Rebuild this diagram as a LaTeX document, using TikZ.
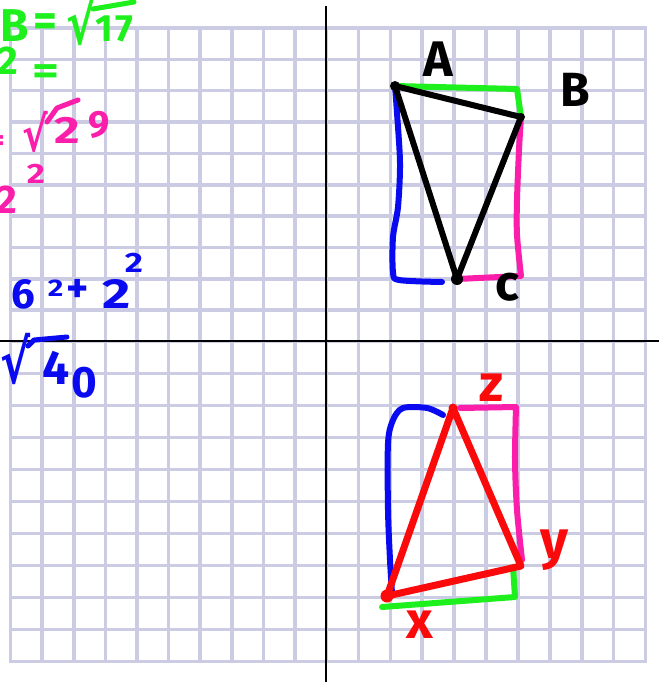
\documentclass[tikz,border=0pt]{standalone}
\usepackage{fontspec}
\usepackage{graphicx}
\setmainfont{Fira Sans}
\newfontfamily\symfont{DejaVu Sans}
\definecolor{gridc}{RGB}{203,203,228}
\definecolor{penblue}{RGB}{10,10,240}
\definecolor{pengreen}{RGB}{30,240,30}
\definecolor{penpink}{RGB}{250,30,170}
\definecolor{penred}{RGB}{250,10,10}
\newcommand{\supr}[2]{\raisebox{#1}{\fontsize{#2}{#2}\selectfont\scalebox{1.25}[1]{2}}}
\newcommand{\wide}[1]{\scalebox{1.3}[1]{#1}}
\tikzset{
  gridline/.style={draw=gridc, line width=3.6pt, line cap=rect},
  axisline/.style={draw=black, line width=1.4pt},
  pen/.style={line width=6pt, line cap=round, line join=round},
  hand/.style={inner sep=0pt, font=\fontsize{#1}{#1}\selectfont\bfseries},
  hand/.default=48,
  radical/.style={inner sep=0pt, font=\fontsize{#1}{#1}\selectfont\symfont\bfseries},
  dotmark/.style={circle, inner sep=0pt, minimum size=#1, fill},
}
\begin{document}
\begin{tikzpicture}[x=1pt,y=-1pt]
\useasboundingbox (0,0) rectangle (659,682);
\fill[white] (0,0) rectangle (659,682);
% grid
\foreach \k in {0,...,10} \draw[gridline] ({10.5+31.6*\k},28) -- ({10.5+31.6*\k},661.5);
\foreach \k in {1,...,10} \draw[gridline] ({326.5+31.9*\k},28) -- ({326.5+31.9*\k},661.5);
\foreach \k in {0,...,10} \draw[gridline] (10.5,{28+31.35*\k}) -- (645.5,{28+31.35*\k});
\foreach \k in {1,...,10} \draw[gridline] (10.5,{341.5+32*\k}) -- (645.5,{341.5+32*\k});
% axes
\coordinate (ytop) at (326,6);
\coordinate (ybot) at (326,682);
\coordinate (xleft) at (0,341);
\coordinate (xright) at (659,341);
\draw[axisline] (ytop) -- (ybot);
\draw[axisline] (xleft) -- (xright);

% ---------- triangle ABC ----------
\coordinate (A) at (395,86);
\coordinate (B) at (521,117);
\coordinate (C) at (457,279);
\draw[pen, penblue] plot[smooth, tension=0.5] coordinates {(A) (397,113) (400,163) (398,207) (393,237) (393,272) (399,280) (442,282)};
\draw[pen, pengreen] (A) -- (517,89) -- (B);
\draw[pen, penpink] plot[smooth, tension=0.5] coordinates {(B) (519,150) (517,200) (517,235) (521,276)} -- (C);
\draw[pen, black] (A) -- (B);
\draw[pen, black] (A) -- (C);
\draw[pen, black] (C) -- (B);
\node[dotmark=10pt, black] (Ad) at (A) {};
\node[dotmark=8pt, black] (Bd) at (B) {};
\node[dotmark=12pt, black] (Cd) at (C) {};
\node[hand=50] (labA) at (438,59) {A};
\node[hand=48] (labB) at (575,90) {B};
\node[hand=50] (labC) at (507,287) {c};

% ---------- triangle XYZ ----------
\coordinate (Z) at (453,408);
\coordinate (Y) at (521,566);
\coordinate (X) at (387,596);
\draw[pen, penblue] plot[smooth, tension=0.5] coordinates {(443,415) (427,408) (403,408) (393,420) (388,443) (388,510) (390,560) (392,593)};
\draw[pen, penpink] plot[smooth, tension=0.4] coordinates {(460,408) (516,407)} -- plot[smooth, tension=0.5] coordinates {(516,407) (515,460) (517,510) (522,560)};
\draw[pen, pengreen] (513,567) -- (515,597) -- (382,607);
\draw[line width=7pt, line cap=round, line join=round, penred] (Z) -- (Y) -- (X) -- cycle;
\node[dotmark=13pt, penred] (Xd) at (X) {};
\node[dotmark=9pt, penred] (Zd) at (Z) {};
\node[hand=52, penred] (labZ) at (491,388) {z};
\node[hand=54, penred] (labY) at (554,550) {y};
\node[hand=52, penred] (labX) at (420,625) {x};

% ---------- left notes ----------
% green
\node[hand=46, pengreen, anchor=base west] (g1) at (0,42) {B\hspace{5pt}\raisebox{5pt}{=}};
\node[radical=60, pengreen, anchor=south west] (g1r) at (66,46) {\scalebox{0.75}[1]{√}};
\node[hand=38, pengreen, anchor=base west] (g1n) at (95,42) {1\hspace{3pt}7};
\draw[pen, pengreen, line width=5pt] (93,9) -- (134,2);
\node[hand=40, pengreen, anchor=base west] (g2) at (-3,75) {2\hspace{15pt}\raisebox{-10pt}{\wide{=}}};
% pink
\node[hand=30, penpink, anchor=east] (p0) at (5,143) {=};
\node[radical=48, penpink, anchor=south west] (p1r) at (22,153) {\scalebox{0.8}[1]{√}};
\node[hand=38, penpink, anchor=base west] (p1n) at (54,143) {\wide{2}\hspace{9pt}\raisebox{6pt}{9}};
\draw[pen, penpink, line width=5pt] (47,122) -- (57,108) -- (78,100);
\node[hand=40, penpink, anchor=base west] (p2) at (-4,213) {2\hspace{10pt}\supr{30pt}{28}};
% blue
\node[hand=42, penblue, anchor=base west] (b1) at (11,308) {6\hspace{13pt}\supr{12pt}{24}\hspace{3pt}\raisebox{6pt}{+}\hspace{14pt}\wide{2}\hspace{-6pt}\supr{36pt}{28}};
\node[radical=60, penblue, anchor=south west] (b2r) at (0,385) {\scalebox{0.75}[1]{√}};
\node[hand=48, penblue, anchor=base west] (b2n) at (42,384) {4\hspace{2pt}\raisebox{-13pt}{\fontsize{44}{44}\selectfont 0}};
\draw[pen, penblue, line width=5pt] (28,346) -- (34,340) -- (67,337);
\end{tikzpicture}
\end{document}
